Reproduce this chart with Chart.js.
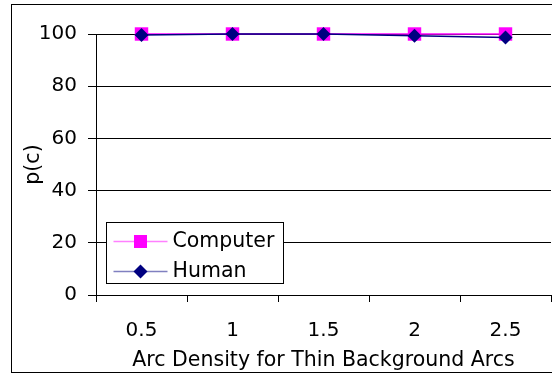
<!DOCTYPE html>
<html>
<head>
<meta charset="utf-8">
<script src="https://cdn.jsdelivr.net/npm/chart.js@4/dist/chart.umd.min.js"></script>
<style>
  html, body { margin: 0; padding: 0; background: #fff; overflow: hidden; }
  canvas { display: block; }
</style>
</head>
<body>
<canvas id="chart" width="552" height="375"></canvas>
<script>
// values
var categories = ["0.5", "1", "1.5", "2", "2.5"];
var computerValues = [100, 100, 100, 100, 100];
var humanValues = [99.6, 100, 100, 99.3, 98.7];
var seriesNames = ["Computer", "Human"];

var FONT = "'DejaVu Sans', Verdana, sans-serif";

// outer frame round the whole chart
var framePlugin = {
  id: 'frame',
  beforeDraw: function(chart) {
    var ctx = chart.ctx;
    ctx.save();
    ctx.fillStyle = '#fff';
    ctx.fillRect(0, 0, chart.width, chart.height);
    ctx.strokeStyle = '#000';
    ctx.lineWidth = 1;
    ctx.strokeRect(11.5, 4.5, chart.width, 368);
    ctx.restore();
  }
};

// boxed legend sitting in the lower left of the plot
var boxLegend = {
  id: 'boxLegend',
  afterDraw: function(chart) {
    var ctx = chart.ctx;
    var area = chart.chartArea;
    var x0 = area.left + 10.5, y0 = area.bottom - 72.5;
    var w = 177, h = 61;
    ctx.save();
    ctx.fillStyle = '#fff';
    ctx.fillRect(x0, y0, w, h);
    ctx.strokeStyle = '#000';
    ctx.lineWidth = 1;
    ctx.strokeRect(x0, y0, w, h);
    chart.data.datasets.forEach(function(ds, i) {
      var cy = y0 + 19 + i * 30;
      ctx.strokeStyle = ds.legendLine;
      ctx.lineWidth = 1.5;
      ctx.beginPath();
      ctx.moveTo(x0 + 7, cy);
      ctx.lineTo(x0 + 61, cy);
      ctx.stroke();
      ctx.fillStyle = ds.backgroundColor;
      var mx = x0 + 34;
      if (ds.pointStyle === 'rect') {
        ctx.fillRect(mx - 6.5, cy - 6.5, 13, 13);
      } else {
        ctx.beginPath();
        ctx.moveTo(mx, cy - 7);
        ctx.lineTo(mx + 7, cy);
        ctx.lineTo(mx, cy + 7);
        ctx.lineTo(mx - 7, cy);
        ctx.closePath();
        ctx.fill();
      }
      ctx.fillStyle = '#000';
      ctx.font = '20.5px ' + FONT;
      ctx.textBaseline = 'middle';
      ctx.textAlign = 'left';
      ctx.fillText(ds.label, x0 + 66, cy);
    });
    ctx.restore();
  }
};

var ctx = document.getElementById('chart').getContext('2d');
var chart = new Chart(ctx, {
  type: 'line',
  data: {
    labels: categories,
    datasets: [{
      label: seriesNames[0],
      data: computerValues,
      order: 1,
      clip: false,
      borderColor: '#ff00ff',
      backgroundColor: '#ff00ff',
      legendLine: '#ff80ff',
      borderWidth: 1.5,
      pointStyle: 'rect',
      pointRadius: 9.5,
      pointBorderWidth: 0,
      tension: 0
    }, {
      label: seriesNames[1],
      data: humanValues,
      order: 0,
      clip: false,
      borderColor: '#000080',
      backgroundColor: '#000080',
      legendLine: '#8080c0',
      borderWidth: 1.5,
      pointStyle: 'rectRot',
      pointRadius: 7,
      pointBorderWidth: 0,
      tension: 0
    }]
  },
  options: {
    responsive: false,
    animation: false,
    devicePixelRatio: 1,
    layout: { autoPadding: false, padding: { top: 34, right: 1, bottom: 0, left: 0 } },
    plugins: {
      legend: { display: false },
      tooltip: { enabled: false }
    },
    scales: {
      x: {
        offset: true,
        grid: {
          offset: true,
          drawOnChartArea: false,
          drawTicks: true,
          tickLength: 7,
          color: '#000'
        },
        border: { color: '#000', width: 1 },
        ticks: {
          color: '#000',
          font: { family: FONT, size: 20 },
          padding: 17,
          maxRotation: 0
        },
        title: {
          display: true,
          text: 'Arc Density for Thin Background Arcs',
          color: '#000',
          font: { family: FONT, size: 20.5 },
          padding: { top: 0, bottom: 2.5 }
        },
        afterFit: function(scale) {
          scale.height = 80;
          scale.paddingLeft = 0;
          scale.paddingRight = 0;
        }
      },
      y: {
        min: 0,
        max: 100,
        ticks: {
          stepSize: 20,
          color: '#000',
          font: { family: FONT, size: 20 },
          padding: 11
        },
        grid: {
          color: '#000',
          tickLength: 8
        },
        border: { color: '#000', width: 1 },
        title: {
          display: true,
          text: 'p(c)',
          color: '#000',
          font: { family: FONT, size: 20.5 },
          padding: { top: 21, bottom: 0 }
        },
        afterFit: function(scale) { scale.width = 96; }
      }
    }
  },
  plugins: [framePlugin, boxLegend]
});
</script>
</body>
</html>
